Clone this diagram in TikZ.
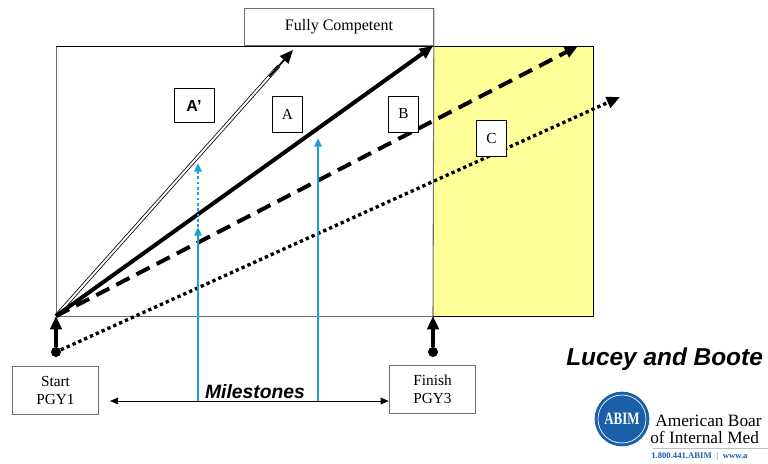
\documentclass[tikz,border=0pt]{standalone}
\usepackage{fontspec}
\setmainfont{Liberation Serif}
\newfontfamily\arialf{Liberation Sans}
\usetikzlibrary{arrows.meta,calc}
\definecolor{msblue}{HTML}{1BA1D6}
\definecolor{paleyellow}{HTML}{FFFF99}
\definecolor{abimblue}{HTML}{1A5FA8}
\definecolor{framegray}{HTML}{707070}
\begin{document}
\begin{tikzpicture}[x=0.75pt,y=-0.75pt,
  tipbig/.style={-{Triangle[length=10pt,width=8.5pt]}},
  tipsmall/.style={-{Triangle[length=6.5pt,width=5.5pt]}},
  lblbox/.style={draw=black, line width=0.6pt, fill=white, inner sep=0pt, font=\fontsize{11.5}{13}\selectfont},
  endbox/.style={draw=framegray, line width=0.7pt, fill=white, inner sep=0pt, minimum width=65pt, minimum height=36pt, align=center, font=\fontsize{11.5}{13.5}\selectfont},
  dotnode/.style={circle, fill=black, inner sep=0pt, minimum size=7.5pt},
  mline/.style={draw=msblue, line width=2.1pt},
  solidpath/.style={line width=3pt},
  dashpath/.style={line width=3pt, dash pattern=on 11pt off 6pt},
  dotpath/.style={line width=2.5pt, dash pattern=on 2.5pt off 2.3pt},
]
\useasboundingbox (0,0) rectangle (768,464);
% frame
\fill[paleyellow] (433,46) rectangle (593,316);
\draw[framegray, line width=0.7pt] (56,46) -- (56,316) -- (433,316);
\draw[black, line width=0.7pt] (56,46) -- (593,46) -- (593,316) -- (433,316);
\node[draw=framegray, line width=0.7pt, fill=white, minimum width=141.75pt, minimum height=27.75pt, inner sep=0pt, anchor=south west, font=\fontsize{12}{13}\selectfont] (fc) at (244,46) {Fully Competent};
\draw[framegray, line width=0.8pt] (fc.north east) -- (433,316);
% key points
\coordinate (O) at (56,316);
\coordinate (F) at (433,316);
\coordinate (tA) at (433,46);
\coordinate (tAp) at (293,50);
\coordinate (tAps) at ($(O)!0.94!(tAp)$);
\coordinate (tB) at (578,46);
\coordinate (tC) at (620,97);
\node[dotnode] (sd) at (56,352) {};
\node[dotnode] (fd) at (433,352) {};
% A' double line
\draw[double=white, double distance=1.5pt, line width=0.6pt] (O) -- (tAps);
\draw[tipbig, line width=1.3pt] ($(O)!0.9!(tAp)$) -- (tAp);
% A solid
\draw[solidpath, tipbig] (O) -- (tA);
% B dashed
\draw[dashpath, tipbig] (O) -- (tB);
% C dotted
\draw[dotpath, -{Triangle[length=10pt,width=8.5pt]}] (sd) -- (tC);
% start/finish arrows
\draw[line width=2.6pt, tipbig] (sd) -- (O);
\draw[line width=2.6pt, tipbig] (fd) -- (F);
% label boxes
\node[lblbox, minimum width=30pt, minimum height=25pt, font=\arialf\bfseries\fontsize{12}{13}\selectfont] (lAp) at (194,105.5) {A’};
\node[lblbox, minimum width=22pt, minimum height=27pt] (lA) at (287.5,114) {A};
\node[lblbox, minimum width=22pt, minimum height=27pt] (lB) at (403.5,114) {B};
\node[lblbox, minimum width=22pt, minimum height=27.5pt] (lC) at (491.5,138.5) {C};
% start / finish boxes
\node[endbox] (start) at (55.5,390) {Start\\PGY1};
\node[endbox] (finish) at (432.5,389.5) {Finish\\PGY3};
% milestones
\coordinate (ml) at (110,401);
\draw[line width=0.6pt, {Triangle[length=6pt,width=5pt]}-{Triangle[length=6pt,width=5pt]}] (ml) -- (finish.west |- ml);
\coordinate (m1b) at (198,401);
\coordinate (m1a) at (198,227);
\coordinate (m1c) at (198,163);
\coordinate (m2b) at (318,401);
\coordinate (m2a) at (318,138);
\draw[mline, tipsmall] (m1b) -- (m1a);
\draw[mline, dash pattern=on 2.1pt off 1.9pt, tipsmall] (m1a) -- (m1c);
\draw[mline, tipsmall] (m2b) -- (m2a);
\node[font=\arialf\bfseries\itshape\fontsize{14.5}{16}\selectfont, inner sep=0pt, anchor=base] (mil) at (255,398) {Milestones};
% credit
\node[font=\arialf\bfseries\itshape\fontsize{18.3}{20}\selectfont, inner sep=0pt, anchor=base west] (cred) at (566,365) {Lucey and Boote};
% ABIM logo
\node[circle, fill=abimblue, minimum size=41pt, inner sep=0pt] (logo) at (622,419) {};
\draw[white, line width=0.5pt] (logo.center) circle (24);
\node[white, font=\bfseries\fontsize{13}{13}\selectfont, inner sep=0pt, xscale=0.75] (logot) at (logo.center) {ABIM};
\node[font=\fontsize{13}{14}\selectfont, anchor=base west, inner sep=0pt] (am1) at (655,426) {American Boar};
\node[font=\fontsize{13}{14}\selectfont, anchor=base west, inner sep=0pt] (am2) at (650,443) {of Internal Med};
\draw[gray!50, line width=0.4pt] (653,448) -- (768,448);
\node[font=\bfseries\fontsize{6.5}{7}\selectfont, text=abimblue, anchor=base west, inner sep=0pt] (am3) at (651,458) {1.800.441.ABIM \;\textcolor{gray}{|}\; www.a};
\end{tikzpicture}
\end{document}
